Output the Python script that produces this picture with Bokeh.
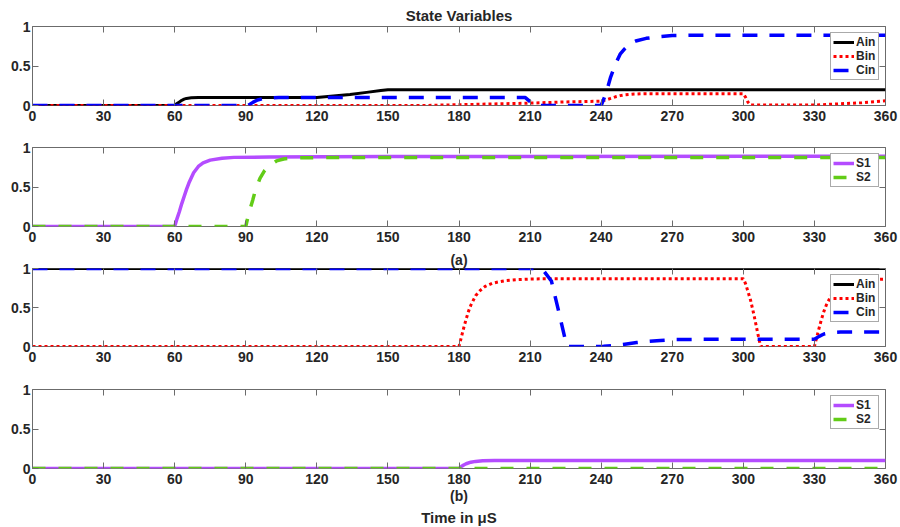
from bokeh.plotting import figure
from bokeh.layouts import column
from bokeh.models import Range1d, LinearAxis, FixedTicker, NumeralTickFormatter, Title
from bokeh.embed import file_html
from bokeh.resources import INLINE

# ---------------- data ----------------
x_ticks = [0, 30, 60, 90, 120, 150, 180, 210, 240, 270, 300, 330, 360]
y_ticks = [0, 0.5, 1]

# (a) state variables
ain_a_t = [0, 60, 61, 62, 63, 64, 65, 67, 70, 120, 127, 134, 141, 147, 150, 360]
ain_a_v = [0, 0, 0.025, 0.045, 0.065, 0.08, 0.09, 0.097, 0.1, 0.1, 0.12, 0.138, 0.166, 0.19, 0.2, 0.2]

bin_a_t = [0, 165, 180, 195, 210, 225, 240, 242, 244, 246, 248, 250, 254, 258, 300, 301, 302, 303, 330, 340, 350, 360]
bin_a_v = [0, 0, 0.01, 0.02, 0.03, 0.045, 0.055, 0.07, 0.09, 0.11, 0.125, 0.135, 0.145, 0.15, 0.15, 0.1, 0.04, 0.005, 0.005, 0.02, 0.035, 0.06]

cin_a_t = [0, 91, 93, 95, 97, 100, 104, 208, 210, 212, 240, 242, 244, 246, 248, 250, 252, 255, 259, 264, 270, 280, 360]
cin_a_v = [0, 0, 0.04, 0.07, 0.085, 0.095, 0.1, 0.1, 0.05, 0, 0, 0.15, 0.36, 0.52, 0.65, 0.72, 0.78, 0.82, 0.85, 0.87, 0.885, 0.89, 0.89]

s1_a_t = [0, 60, 61, 62, 63, 64, 65, 66, 68, 70, 72, 75, 80, 85, 100, 150, 360]
s1_a_v = [0, 0, 0.1, 0.19, 0.29, 0.38, 0.47, 0.55, 0.68, 0.76, 0.805, 0.84, 0.865, 0.875, 0.88, 0.885, 0.89]

s2_a_t = [0, 90, 91, 92, 93, 94, 96, 98, 100, 103, 106, 110, 120, 360]
s2_a_v = [0, 0, 0.13, 0.24, 0.34, 0.45, 0.61, 0.71, 0.77, 0.83, 0.855, 0.868, 0.872, 0.875]

# (b) state variables
ain_b_t = [0, 360]
ain_b_v = [1, 1]

bin_b_t = [0, 180, 181, 182, 183, 184, 185, 187, 189, 191, 194, 197, 200, 205, 210, 220,
           300, 301, 302, 303, 304, 305, 306, 307.3, 330, 331, 332, 333, 334, 335, 337, 339,
           341, 344, 347, 350, 355, 360]
bin_b_v = [0, 0, 0.12, 0.24, 0.35, 0.45, 0.53, 0.65, 0.72, 0.77, 0.81, 0.83, 0.845, 0.858, 0.865, 0.87,
           0.87, 0.8, 0.7, 0.6, 0.47, 0.33, 0.18, 0, 0, 0.12, 0.24, 0.35, 0.45, 0.53, 0.65, 0.72,
           0.77, 0.81, 0.83, 0.845, 0.858, 0.865]

cin_b_t = [0, 214, 216, 219, 222, 225.5, 237, 241, 245, 250, 255, 260, 265, 270, 280, 330, 332, 334, 336, 338, 341, 360]
cin_b_v = [1, 1, 0.96, 0.84, 0.46, 0, 0, 0.003, 0.01, 0.03, 0.05, 0.065, 0.078, 0.088, 0.092, 0.092, 0.13, 0.16, 0.172, 0.18, 0.185, 0.185]

s1_b_t = [0, 180, 181, 182, 183, 185, 187, 190, 195, 360]
s1_b_v = [0, 0, 0.025, 0.045, 0.06, 0.08, 0.09, 0.097, 0.1, 0.1]

s2_b_t = [0, 360]
s2_b_v = [0, 0]

# ---------------- style ----------------
FONT = "Liberation Sans"
GRAY = "#6b6b6b"
TXT = "#262626"
W = 900
C_A, C_B, C_C = "#000000", "#ff0000", "#0000ff"
C_S1, C_S2 = "#b44cff", "#62cc17"


def style_axis(ax, labels=True, standoff=5):
    ax.axis_line_color = None
    ax.major_tick_in = 6
    ax.major_tick_out = 0
    ax.minor_tick_in = 0
    ax.minor_tick_out = 0
    ax.major_tick_line_color = GRAY
    ax.major_tick_line_width = 1
    if labels:
        ax.major_label_text_font = FONT
        ax.major_label_text_font_style = "bold"
        ax.major_label_text_font_size = "14px"
        ax.major_label_text_color = TXT
        ax.major_label_standoff = standoff
    else:
        ax.major_label_text_font_size = "0px"
        ax.major_label_text_color = None
        ax.major_label_standoff = 0


def make_fig(height, top, bottom):
    p = figure(width=W, height=height, x_range=Range1d(0, 360), y_range=Range1d(0, 1),
               output_backend="svg", toolbar_location=None,
               min_border_left=32, min_border_right=15, min_border_top=top, min_border_bottom=bottom,
               background_fill_color="white", border_fill_color="white",
               outline_line_color=GRAY, outline_line_width=1)
    p.grid.visible = False
    p.xaxis.ticker = FixedTicker(ticks=x_ticks)
    p.yaxis.ticker = FixedTicker(ticks=y_ticks)
    p.yaxis.formatter = NumeralTickFormatter(format="0.[0]")
    style_axis(p.below[0], True, 5)
    style_axis(p.left[0], True, 2)
    top_ax = LinearAxis(ticker=FixedTicker(ticks=x_ticks))
    style_axis(top_ax, False)
    p.add_layout(top_ax, "above")
    right_ax = LinearAxis(ticker=FixedTicker(ticks=y_ticks))
    style_axis(right_ax, False)
    p.add_layout(right_ax, "right")
    return p


def style_legend(p):
    leg = p.legend[0]
    leg.location = "top_right"
    leg.margin = 6
    leg.padding = 2
    leg.spacing = 0
    leg.glyph_width = 21
    leg.glyph_height = 14
    leg.label_height = 14
    leg.label_standoff = 2
    leg.label_text_font = FONT
    leg.label_text_font_style = "bold"
    leg.label_text_font_size = "12px"
    leg.label_text_color = TXT
    leg.border_line_color = "#555555"
    leg.border_line_width = 1
    leg.background_fill_color = "white"
    leg.background_fill_alpha = 1


def caption(text, size, standoff):
    return Title(text=text, align="center", text_font=FONT, text_font_style="bold",
                 text_font_size=size, text_color=TXT, standoff=standoff)


# panel 1 : (a) inputs
p1 = make_fig(132, 26, 27)
p1.title = caption("State Variables", "15px", 5)
p1.line(ain_a_t, ain_a_v, color=C_A, line_width=3, legend_label="Ain")
p1.line(bin_a_t, bin_a_v, color=C_B, line_width=3, line_dash="3 3", legend_label="Bin")
p1.line(cin_a_t, cin_a_v, color=C_C, line_width=3.5, line_dash="15 12", legend_label="Cin")
style_legend(p1)

# panel 2 : (a) outputs
p2 = make_fig(116, 15, 22)
p2.line(s1_a_t, s1_a_v, color=C_S1, line_width=3.5, legend_label="S1")
p2.line(s2_a_t, s2_a_v, color=C_S2, line_width=3.5, line_dash="13 13", legend_label="S2")
style_legend(p2)

# panel 3 : (b) inputs, with the "(a)" caption of the panels above
p3 = make_fig(128, 19, 30)
p3.title = caption("(a)", "14px", 2)
p3.line(ain_b_t, ain_b_v, color=C_A, line_width=3, legend_label="Ain")
p3.line(bin_b_t, bin_b_v, color=C_B, line_width=3, line_dash="3 3", legend_label="Bin")
p3.line(cin_b_t, cin_b_v, color=C_C, line_width=3.5, line_dash="15 12", legend_label="Cin")
style_legend(p3)

# panel 4 : (b) outputs
p4 = make_fig(151, 13, 59)
p4.line(s1_b_t, s1_b_v, color=C_S1, line_width=3.5, legend_label="S1")
p4.line(s2_b_t, s2_b_v, color=C_S2, line_width=3.5, line_dash="13 13", legend_label="S2")
style_legend(p4)
xb = p4.below[0]
xb.axis_label = "(b)"
xb.axis_label_text_font = FONT
xb.axis_label_text_font_style = "bold"
xb.axis_label_text_font_size = "14px"
xb.axis_label_text_color = TXT
xb.axis_label_standoff = 1
p4.add_layout(caption("Time in μS", "15px", 0), "below")

layout = column(p1, p2, p3, p4)
open("out.html", "w").write(file_html(layout, INLINE))
